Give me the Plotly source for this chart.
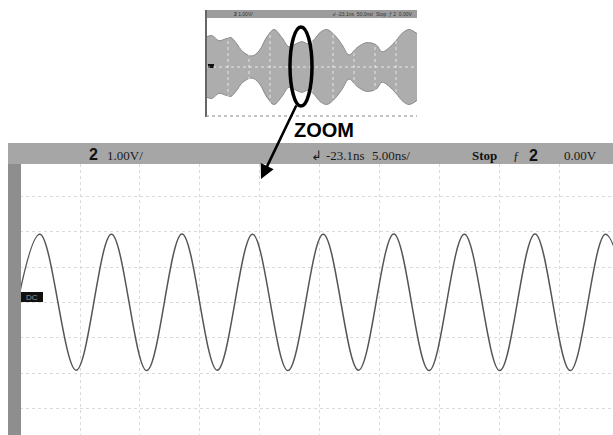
import plotly.graph_objects as go

W, H = 613, 435

# ---------------- data ----------------
# zoomed trace: successive troughs / peaks (time in ns, voltage in V)
wave_t = [-1.21, 1.65, 4.68, 7.62, 10.56, 13.50, 16.44, 19.38, 22.33, 25.27,
          28.21, 31.15, 34.09, 37.03, 39.98, 42.92, 45.86, 48.80, 51.74]
wave_v = [-1.93, 1.93, -1.92, 1.93, -1.93, 1.94, -1.92, 1.93, -1.93, 1.93,
          -1.92, 1.94, -1.93, 1.93, -1.93, 1.94, -1.93, 1.93, -1.92]

# overview inset: envelope of the modulated signal (divisions, V amplitude)
env_x = [0.0, 0.24, 0.57, 0.90, 1.14, 1.38, 1.71, 2.14, 2.48, 2.86, 3.19,
         3.57, 3.90, 4.24, 4.52, 4.81, 5.10, 5.38, 5.71, 6.10, 6.43, 6.76,
         7.14, 7.57, 8.05, 8.33, 8.67, 9.00, 9.33, 9.62, 10.0]
env_a = [2.48, 2.56, 2.15, 2.31, 2.40, 1.98, 1.24, 0.90, 1.32, 2.48, 3.06,
         2.40, 1.65, 1.90, 2.07, 1.90, 2.23, 2.81, 3.06, 2.56, 1.82, 0.99,
         1.57, 1.98, 1.82, 1.24, 1.57, 2.15, 2.81, 3.06, 2.73]

top_left_labels = ["2", "1.00V/"]
top_right_labels = ["↲", "-23.1ns", "5.00ns/", "Stop", "ƒ", "2", "0.00V"]


def px(x):
    return x / W


def py(y):
    return 1 - y / H


fig = go.Figure()

# inset envelope (upper and lower)
fig.add_trace(go.Scatter(x=env_x, y=env_a, mode="lines", line=dict(color="#8a8a8a", width=1, shape="spline"),
                         xaxis="x2", yaxis="y2", hoverinfo="skip", showlegend=False))
fig.add_trace(go.Scatter(x=env_x, y=[-a for a in env_a], mode="lines",
                         line=dict(color="#8a8a8a", width=1, shape="spline"),
                         fill="tonexty", fillcolor="#adadad",
                         xaxis="x2", yaxis="y2", hoverinfo="skip", showlegend=False))

# main zoomed waveform
fig.add_trace(go.Scatter(x=wave_t, y=wave_v, mode="lines",
                         line=dict(color="#555555", width=1.5, shape="spline"),
                         hoverinfo="skip", showlegend=False))

shapes = []
# main screen frame bars
shapes.append(dict(type="rect", xref="paper", yref="paper", x0=px(8), x1=px(613), y0=py(164), y1=py(143),
                   fillcolor="#a6a6a6", line=dict(width=0), layer="above"))
shapes.append(dict(type="rect", xref="paper", yref="paper", x0=px(8), x1=px(21), y0=py(435), y1=py(164),
                   fillcolor="#8e8e8e", line=dict(width=0), layer="above"))
# channel marker
shapes.append(dict(type="rect", xref="paper", yref="paper", x0=px(21), x1=px(43), y0=py(302), y1=py(292),
                   fillcolor="#111111", line=dict(width=0), layer="above"))

# inset frame
shapes.append(dict(type="rect", xref="paper", yref="paper", x0=px(205), x1=px(417), y0=py(18), y1=py(10),
                   fillcolor="#9c9c9c", line=dict(width=0), layer="above"))
shapes.append(dict(type="line", xref="paper", yref="paper", x0=px(206), x1=px(206), y0=py(117), y1=py(10),
                   line=dict(color="#666666", width=2), layer="above"))
shapes.append(dict(type="line", xref="paper", yref="paper", x0=px(206), x1=px(417), y0=py(116), y1=py(116),
                   line=dict(color="#888888", width=1, dash="dot"), layer="above"))
shapes.append(dict(type="rect", xref="paper", yref="paper", x0=px(208), x1=px(214), y0=py(68), y1=py(64),
                   fillcolor="#111111", line=dict(width=0), layer="above"))
# inset grid, visible through the envelope
for gx in range(1, 10):
    shapes.append(dict(type="line", xref="x2", yref="y2 domain", x0=gx, x1=gx, y0=0, y1=1,
                       line=dict(color="rgba(255,255,255,0.7)", width=1, dash="dot"), layer="above"))
shapes.append(dict(type="line", xref="x2 domain", yref="y2", x0=0, x1=1, y0=0, y1=0,
                   line=dict(color="rgba(255,255,255,0.7)", width=1, dash="dot"), layer="above"))
# zoom ellipse
shapes.append(dict(type="circle", xref="paper", yref="paper", x0=px(290), x1=px(312), y0=py(106), y1=py(27),
                   line=dict(color="#000000", width=3.5), layer="above"))

fig.update_layout(shapes=shapes)

ann = []
font_bar = dict(family="Liberation Serif", size=13, color="#1a1a1a")
ann.append(dict(x=px(93), y=py(154), xref="paper", yref="paper", text="<b>" + top_left_labels[0] + "</b>",
                showarrow=False, font=dict(family="Liberation Sans", size=16, color="#111"),
                xanchor="center", yanchor="middle"))
ann.append(dict(x=px(105), y=py(155), xref="paper", yref="paper", text=top_left_labels[1],
                showarrow=False, font=font_bar, xanchor="left", yanchor="middle"))
right_pos = [309, 324, 370, 470, 511, 527, 562]
for lab, xp in zip(top_right_labels, right_pos):
    if lab == "Stop":
        txt = "<b>Stop</b>"
        f = dict(family="Liberation Serif", size=13, color="#111")
    elif lab == "2":
        txt = "<b>2</b>"
        f = dict(family="Liberation Sans", size=16, color="#111")
    else:
        txt = lab
        f = font_bar
    ann.append(dict(x=px(xp), y=py(155), xref="paper", yref="paper", text=txt, showarrow=False,
                    font=f, xanchor="left", yanchor="middle"))
# inset tiny status text
ann.append(dict(x=px(232), y=py(14), xref="paper", yref="paper", text="<b>2</b> 1.00V/", showarrow=False,
                font=dict(family="Liberation Sans", size=5, color="#333"), xanchor="left", yanchor="middle"))
ann.append(dict(x=px(330), y=py(14), xref="paper", yref="paper", text="↲ -23.1ns  50.0ns/  Stop  ƒ 2  0.00V",
                showarrow=False, font=dict(family="Liberation Sans", size=5, color="#333"),
                xanchor="left", yanchor="middle"))
# channel marker label
ann.append(dict(x=px(32), y=py(297), xref="paper", yref="paper", text="DC", showarrow=False,
                font=dict(family="Liberation Sans", size=8, color="#9a9a9a"), xanchor="center", yanchor="middle"))
# ZOOM label and arrow
ann.append(dict(x=px(324), y=py(130), xref="paper", yref="paper", text="<b>ZOOM</b>", showarrow=False,
                font=dict(family="Liberation Sans", size=20, color="#000"), xanchor="center", yanchor="middle"))
ann.append(dict(x=px(261), y=py(179), xref="paper", yref="paper", text="", showarrow=True,
                ax=36, ay=-75, arrowhead=2, arrowsize=1.1, arrowwidth=2.6, arrowcolor="#000"))
fig.update_layout(annotations=ann)

fig.update_layout(
    width=W, height=H,
    margin=dict(l=0, r=0, t=0, b=0),
    paper_bgcolor="white", plot_bgcolor="white",
    showlegend=False,
    xaxis=dict(domain=[px(20), 1], range=[0, 49.42], dtick=5, showgrid=True, gridcolor="#dadada",
               griddash="dot", gridwidth=1, zeroline=False, showticklabels=False, ticks="",
               showline=False, fixedrange=True),
    yaxis=dict(domain=[0, py(164)], range=[-3.754, 3.92], dtick=1, showgrid=True, gridcolor="#dadada",
               griddash="dot", gridwidth=1, zeroline=False, showticklabels=False, ticks="",
               showline=False, fixedrange=True),
    xaxis2=dict(domain=[px(207), px(417)], range=[0, 10], anchor="y2", showgrid=False, zeroline=False,
                showticklabels=False, ticks="", showline=False, fixedrange=True),
    yaxis2=dict(domain=[py(116), py(18)], range=[-4, 4], anchor="x2", showgrid=False, zeroline=False,
                showticklabels=False, ticks="", showline=False, fixedrange=True),
)

fig.write_html("out.html", config={"displayModeBar": False},
               post_script="document.body.style.margin='0';document.body.style.overflow='hidden';")
